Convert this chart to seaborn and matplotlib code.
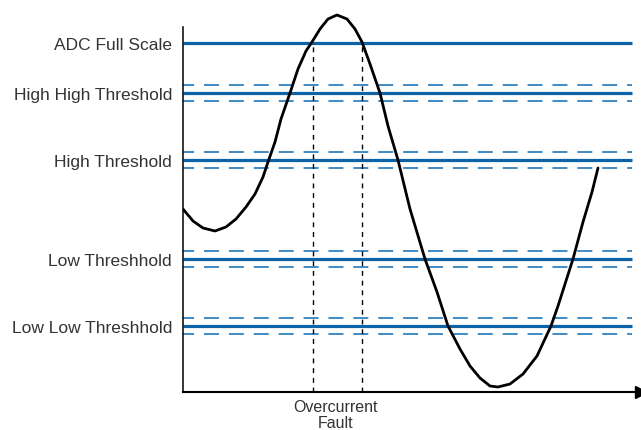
import numpy as np
import pandas as pd
import matplotlib
matplotlib.use('Agg')
import matplotlib.pyplot as plt
import seaborn as sns

# ======================== 数据 ========================
# 阈值电平 (纵轴单位, 0 = 横轴)
level_names = ['ADC Full Scale', 'High High Threshold', 'High Threshold',
               'Low Threshhold', 'Low Low Threshhold']
level_values = [349, 299, 232, 133, 66]
has_band = [False, True, True, True, True]
band_width = 8.3

# 信号曲线
signal_x = [0, 10, 20, 32, 43, 53, 63, 72, 80, 85, 92, 98, 107, 115, 123, 129,
            137, 145, 154, 164, 172, 179, 187, 197, 205, 215, 227, 242, 254,
            265, 277, 287, 297, 307, 315, 327, 340, 354, 368, 375, 390, 400,
            409, 415]
signal_y = [183, 171, 164, 161, 165, 173, 185, 198, 215, 230, 250, 273, 299,
            323, 341, 350, 363, 373, 377, 373, 363, 350, 328, 299, 266, 232,
            183, 133, 100, 66, 43, 26, 14, 6, 5, 8, 18, 36, 66, 86, 133, 170,
            200, 224]

# 过流故障区间
fault_x = [130, 179]
fault_top = 349
fault_label = 'Overcurrent\nFault'

# ======================== 绘图 ========================
sns.set_style('white')
plt.rcParams['font.family'] = ['Liberation Sans', 'DejaVu Sans']

fig = plt.figure(figsize=(6.41, 4.31), dpi=100)
ax = fig.add_axes([183 / 641, 38 / 431, 458 / 641, 393 / 431])
ax.set_xlim(0, 458)
ax.set_ylim(0, 393)

solid_blue = '#0d63a5'
dash_blue = '#3f8ac4'
line_end = 449

for val, band in zip(level_values, has_band):
    ax.hlines(val, 0, line_end, color=solid_blue, linewidth=2.3, zorder=2)
    if band:
        ax.hlines([val - band_width, val + band_width], 0, line_end,
                  color=dash_blue, linewidth=1.4, linestyles=(2, (7.7, 5.1)), zorder=2)

ax.vlines(fault_x, 0, fault_top, color='black', linewidth=1.0,
          linestyles=(0, (3.5, 3.5)), zorder=3)

df = pd.DataFrame({'x': signal_x, 'y': signal_y})
sns.lineplot(data=df, x='x', y='y', ax=ax, color='black', linewidth=2.0,
             sort=False, estimator=None, zorder=4,
             solid_joinstyle='round', solid_capstyle='round')

# 坐标轴
for side in ['top', 'right']:
    ax.spines[side].set_visible(False)
ax.spines['left'].set_bounds(0, 365)
ax.spines['left'].set_linewidth(1.1)
ax.spines['left'].set_color('black')
ax.spines['bottom'].set_linewidth(1.5)
ax.spines['bottom'].set_color('black')
ax.plot(1, 0, '>', color='black', markersize=8, transform=ax.get_yaxis_transform(),
        clip_on=False, zorder=5)

ax.set_yticks(level_values)
ax.set_yticklabels(level_names, fontsize=12.5, color='#333333')
ax.tick_params(axis='y', length=0, pad=8)
ax.set_xticks([np.mean(fault_x) - 2])
ax.set_xticklabels([fault_label], fontsize=11.5, color='#333333', linespacing=1.1)
ax.tick_params(axis='x', length=0, pad=5)
ax.set_xlabel('')
ax.set_ylabel('')

fig.savefig('out.png', dpi=100)
